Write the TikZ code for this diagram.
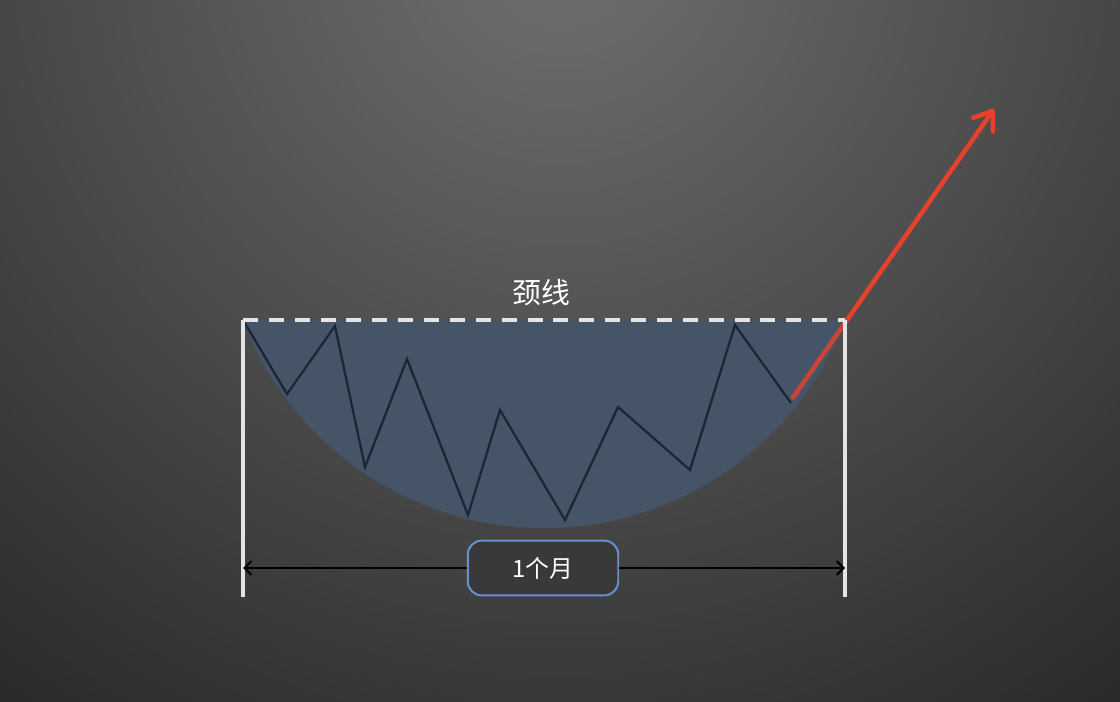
\documentclass[tikz,border=0pt]{standalone}
\usepackage{fontspec}
\newfontfamily\cjk{Noto Sans CJK SC}
\usetikzlibrary{arrows.meta}
\definecolor{bglight}{HTML}{707070}
\definecolor{bgdark}{HTML}{262626}
\definecolor{bowl}{HTML}{465467}
\definecolor{zig}{HTML}{1B2536}
\definecolor{breakred}{HTML}{E8412B}
\definecolor{boxblue}{HTML}{6B8FD0}
\definecolor{boxfill}{HTML}{393939}
\definecolor{chalk}{HTML}{E4E4E4}
\tikzset{
  chalkline/.style={chalk,line width=2.6pt},
  span/.style={black,line width=1.4pt,-{Straight Barb[length=5pt,width=10pt]}},
  periodbox/.style={draw=boxblue,line width=1.4pt,fill=boxfill,rounded corners=10pt,
    minimum width=107pt,minimum height=39pt,text=white,font=\cjk\fontsize{17}{20}\selectfont},
  necktext/.style={text=white,font=\cjk\fontsize{20.5}{24}\selectfont}
}
\begin{document}
\begin{tikzpicture}[x=0.025cm,y=-0.025cm]
\useasboundingbox (0,0) rectangle (1120,702);
\fill[bgdark] (0,0) rectangle (1120,702);
\begin{scope}
\clip (0,0) rectangle (1120,702);
\fill[inner color=bglight,outer color=bgdark] (560,-60) circle (1000);
\end{scope}
\coordinate (NL) at (243,320);
\coordinate (NR) at (845,320);
\coordinate (FL) at (243,597);
\coordinate (FR) at (845,597);
\coordinate (AL) at (243,568);
\coordinate (AR) at (845,568);
\coordinate (brk) at (792,399);
\coordinate (tgt) at (994,109);
\fill[bowl] (NL) arc[start angle=159.3,end angle=20.7,radius=321.8] -- cycle;
\draw[zig,line width=1.6pt] (NL) -- (287,394) -- (335,326) -- (365,467) -- (407,359)
  -- (468,515) -- (500,410) -- (565,520) -- (618,407) -- (690,470) -- (735,325) -- (791,403);
\draw[breakred,line width=3.2pt,-{Straight Barb[length=12pt,width=17pt,round]}] (brk) -- (tgt);
\begin{scope}
\clip (NL) arc[start angle=159.3,end angle=20.7,radius=321.8] -- cycle;
\draw[bowl,opacity=0.2,line width=3.2pt] (brk) -- (tgt);
\end{scope}
\draw[chalkline,dash pattern=on 10.6pt off 7.8pt] (NL) -- (NR);
\draw[chalkline] (NL) -- (FL);
\draw[chalkline] (NR) -- (FR);
\node[necktext] (neck) at (541,293) {颈线};
\node[periodbox] (period) at (543,568) {1个月};
\draw[span] (period.west) -- (AL);
\draw[span] (period.east) -- (AR);
\end{tikzpicture}
\end{document}
